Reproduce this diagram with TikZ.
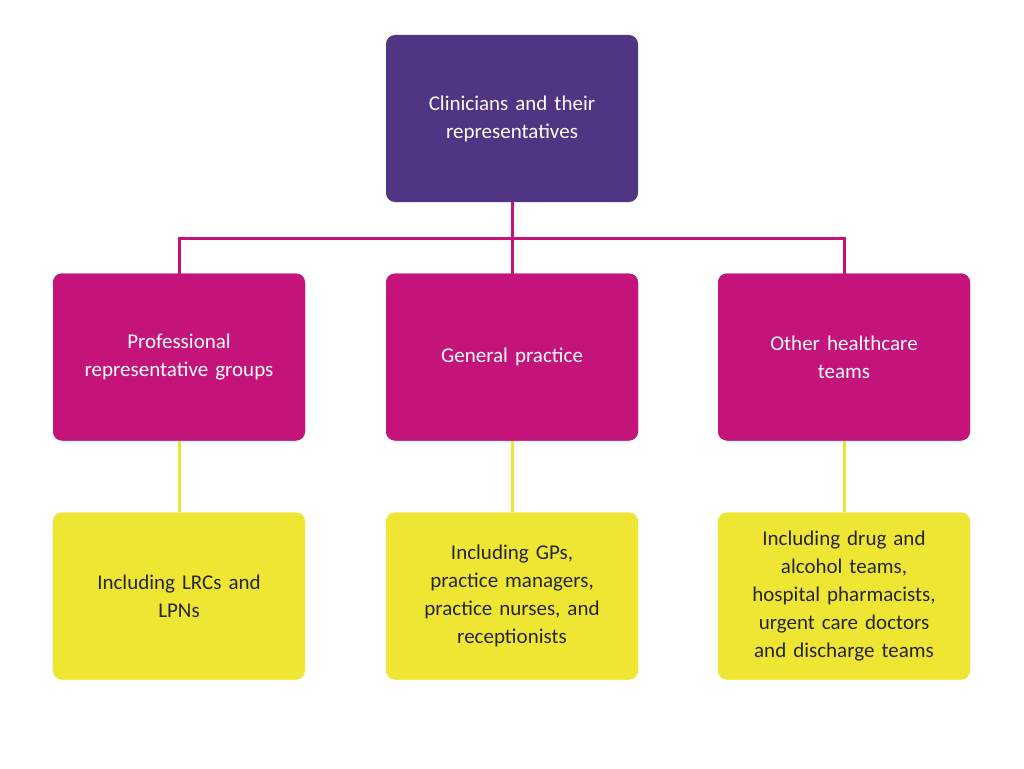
\documentclass[tikz,border=0pt]{standalone}
\usepackage{fontspec}
\setmainfont{Carlito}
\begin{document}
\begin{tikzpicture}[x=1pt,y=-1pt,
  box/.style={rounded corners=9pt,minimum width=252pt,minimum height=167pt,align=center,font=\fontsize{21}{28}\selectfont,inner sep=0pt,text width=240pt},
  top/.style={box,fill=topc,text=white},
  mid/.style={box,fill=midc,text=white},
  low/.style={box,fill=lowc,text=black!85},
  mline/.style={draw=midc,line width=3pt},
  yline/.style={draw=lowc,line width=3pt}]
\definecolor{topc}{HTML}{4F3584}
\definecolor{midc}{HTML}{C4137A}
\definecolor{lowc}{HTML}{EEE633}
\useasboundingbox (0,0) rectangle (1024,768);
\node[top] (t) at (512,118.5) {Clinicians and their\\representatives};
\node[mid] (m1) at (179,357) {Professional\\representative groups};
\node[mid] (m2) at (512,357) {General practice};
\node[mid] (m3) at (844,357) {Other healthcare\\teams};
\node[low] (l1) at (179,596) {Including LRCs and\\LPNs};
\node[low] (l2) at (512,596) {Including GPs,\\practice managers,\\practice nurses, and\\receptionists};
\node[low] (l3) at (844,596) {Including drug and\\alcohol teams,\\hospital pharmacists,\\urgent care doctors\\and discharge teams};
\coordinate (j) at (512,238);
\draw[mline] (t.south) -- (j);
\draw[mline] (j) -| ([yshift=-3pt]m1.north);
\draw[mline] (j) -| ([yshift=-3pt]m3.north);
\draw[mline] (j) -- ([yshift=-3pt]m2.north);
\draw[yline] (m1) -- (l1);
\draw[yline] (m2) -- (l2);
\draw[yline] (m3) -- (l3);
\node[low] at (179,596) {Including LRCs and\\LPNs};
\node[low] at (512,596) {Including GPs,\\practice managers,\\practice nurses, and\\receptionists};
\node[low] at (844,596) {Including drug and\\alcohol teams,\\hospital pharmacists,\\urgent care doctors\\and discharge teams};
\node[mid] at (179,357) {Professional\\representative groups};
\node[mid] at (512,357) {General practice};
\node[mid] at (844,357) {Other healthcare\\teams};
\end{tikzpicture}
\end{document}
